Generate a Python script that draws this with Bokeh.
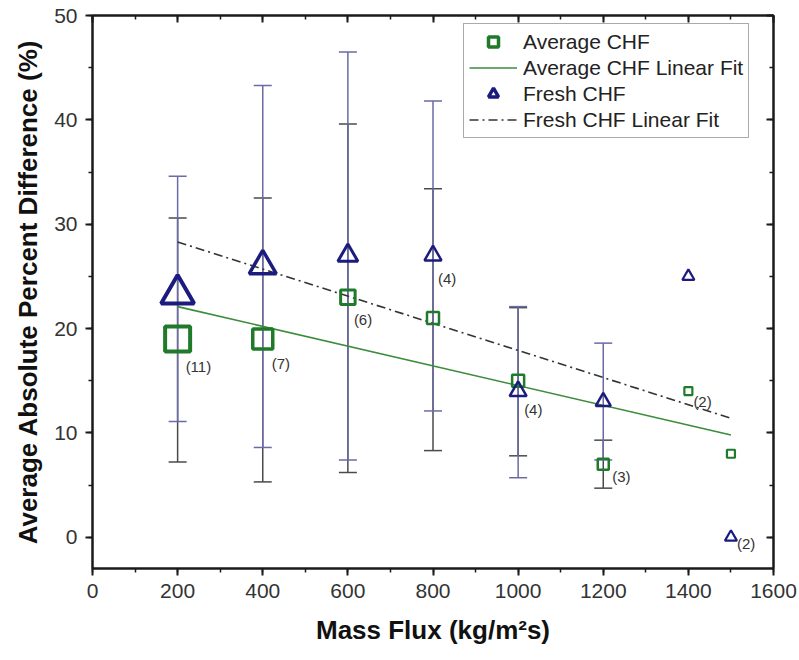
from bokeh.plotting import figure
from bokeh.models import (ColumnDataSource, Range1d, LinearAxis, SingleIntervalTicker,
                          Whisker, Legend, LegendItem, TeeHead, CustomJSTickFormatter)
from bokeh.core.properties import value
from bokeh.embed import file_html
from bokeh.resources import INLINE

# ---------------- data ----------------
mass_flux = [200, 400, 600, 800, 1000, 1200, 1400, 1500]
avg_chf = [19, 19, 23, 21, 15, 7, 14, 8]
fresh_chf = [23.3, 26, 27, 27, 14, 13, 25, 0]
n_points = [11, 7, 6, 4, 4, 3, 2, 2]
label_series = ["avg", "avg", "avg", "fresh", "fresh", "avg", "avg", "fresh"]

err_x = [200, 400, 600, 800, 1000, 1200]
avg_err_low = [7.2, 5.3, 6.2, 8.3, 7.8, 4.7]
avg_err_high = [30.6, 32.5, 39.6, 33.4, 22.0, 9.3]
fresh_err_low = [11.1, 8.6, 7.4, 12.1, 5.7, 7.4]
fresh_err_high = [34.6, 43.3, 46.5, 41.8, 22.1, 18.6]

fit_x = [200, 1500]
avg_fit = [22.1, 9.8]
fresh_fit = [28.3, 11.4]

x_ticks_interval = 200
y_ticks_interval = 10

# ---------------- styles ----------------
FONT = "Liberation Sans"
GREEN = "#1f7a2a"
NAVY = "#1c1c7e"
FIT_GREEN = "#3c8c3c"
AXIS = "#1a1a1a"
sq_size_by_n = {11: 25, 7: 20, 6: 14.5, 4: 12, 3: 11, 2: 8}
tri_size_by_n = {11: 33, 7: 27, 6: 20, 4: 17, 3: 15, 2: 12}
lw_by_n = {11: 4, 7: 3.5, 6: 3, 4: 2.5, 3: 2.5, 2: 2.2}
label_dx = [8, 9, 6, 5, 6, 9, 5, 6]
label_dy = [28, 25, 22, 23, 18, 12, 10, 6]

p = figure(width=799, height=660, output_backend="svg", toolbar_location=None,
           x_range=Range1d(0, 1600), y_range=Range1d(-3, 50),
           min_border_left=92, min_border_right=26, min_border_top=15,
           min_border_bottom=92)
p.background_fill_color = "white"
p.border_fill_color = "white"
p.grid.visible = False
p.outline_line_color = AXIS
p.outline_line_width = 2

p.xaxis.ticker = SingleIntervalTicker(interval=x_ticks_interval, num_minor_ticks=2)
p.yaxis.ticker = SingleIntervalTicker(interval=y_ticks_interval, num_minor_ticks=2)
p.xaxis.axis_label = "Mass Flux (kg/m²s)"
p.yaxis.axis_label = "Average Absolute Percent Difference (%)"
for ax in (p.xaxis[0], p.yaxis[0]):
    ax.axis_line_width = 2
    ax.axis_line_color = AXIS
    ax.major_tick_line_width = 2
    ax.major_tick_line_color = AXIS
    ax.minor_tick_line_width = 1.5
    ax.minor_tick_line_color = AXIS
    ax.major_tick_out = 7
    ax.major_tick_in = 0
    ax.minor_tick_out = 4
    ax.minor_tick_in = 0
    ax.major_label_text_font = FONT
    ax.major_label_text_font_size = "21px"
    ax.major_label_text_color = "#333333"
    ax.major_label_standoff = 8
    ax.axis_label_text_font = FONT
    ax.axis_label_text_font_size = "26px"
    ax.axis_label_text_font_style = "bold"
    ax.axis_label_text_color = "#111111"
p.xaxis.axis_label_standoff = 14
p.yaxis.axis_label_standoff = 8

# mirrored axes (ticks pointing inward, no labels)
blank = CustomJSTickFormatter(code="return ''")
top = LinearAxis(ticker=SingleIntervalTicker(interval=x_ticks_interval, num_minor_ticks=2),
                 formatter=blank)
right = LinearAxis(ticker=SingleIntervalTicker(interval=y_ticks_interval, num_minor_ticks=2),
                   formatter=CustomJSTickFormatter(code="return ''"))
for ax in (top, right):
    ax.major_label_standoff = 0
    ax.major_tick_in = 7
    ax.major_tick_out = 0
    ax.minor_tick_in = 4
    ax.minor_tick_out = 0
    ax.axis_line_width = 2
    ax.axis_line_color = AXIS
    ax.major_tick_line_width = 2
    ax.major_tick_line_color = AXIS
    ax.minor_tick_line_width = 1.5
    ax.minor_tick_line_color = AXIS
p.add_layout(top, "above")
p.add_layout(right, "right")

# error bars
err_src = ColumnDataSource(dict(x=err_x, alo=avg_err_low, ahi=avg_err_high,
                                flo=fresh_err_low, fhi=fresh_err_high))
for lo, hi, col in (("alo", "ahi", "#4a4a4a"), ("flo", "fhi", "#6a6aa6")):
    w = Whisker(source=err_src, base="x", lower=lo, upper=hi,
                line_color=col, line_width=1.5, level="underlay",
                upper_head=TeeHead(size=18, line_color=col, line_width=1.5),
                lower_head=TeeHead(size=18, line_color=col, line_width=1.5))
    p.add_layout(w)

# linear fits
r_afit = p.line(fit_x, avg_fit, line_color=FIT_GREEN, line_width=1.6)
r_ffit = p.line(fit_x, fresh_fit, line_color="#333333", line_width=1.6,
                line_dash="9 4 2 4")

# markers
src = ColumnDataSource(dict(
    x=mass_flux, avg=avg_chf, fresh=fresh_chf,
    sq=[sq_size_by_n[n] for n in n_points],
    tri=[tri_size_by_n[n] for n in n_points],
    lw=[lw_by_n[n] for n in n_points],
))
r_sq = p.scatter("x", "avg", source=src, marker="square", size="sq", line_width="lw",
                 line_color=GREEN, fill_alpha=0)
r_tri = p.scatter("x", "fresh", source=src, marker="triangle", size="tri", line_width="lw",
                  line_color=NAVY, fill_alpha=0)

# count labels
lab_y = [a if s == "avg" else f for a, f, s in zip(avg_chf, fresh_chf, label_series)]
lab_src = ColumnDataSource(dict(x=mass_flux, y=lab_y, text=["(%d)" % n for n in n_points],
                                dx=label_dx, dy=label_dy))
p.text("x", "y", "text", source=lab_src, x_offset="dx", y_offset="dy",
       text_font=value(FONT), text_font_size="15px", text_baseline="middle",
       text_align="left", text_color="#333333")

legend = Legend(items=[
    LegendItem(label="Average CHF", renderers=[r_sq], index=1),
    LegendItem(label="Average CHF Linear Fit", renderers=[r_afit]),
    LegendItem(label="Fresh CHF", renderers=[r_tri], index=1),
    LegendItem(label="Fresh CHF Linear Fit", renderers=[r_ffit]),
], location=(371, 430))
legend.label_text_font = FONT
legend.label_text_font_size = "21px"
legend.label_text_color = "#222222"
legend.glyph_width = 48
legend.glyph_height = 25
legend.label_height = 25
legend.spacing = 1
legend.padding = 5
legend.margin = 0
legend.label_standoff = 6
legend.border_line_color = "#555555"
legend.border_line_width = 1.2
legend.background_fill_alpha = 1
p.add_layout(legend)

open("out.html", "w").write(file_html(p, INLINE))
